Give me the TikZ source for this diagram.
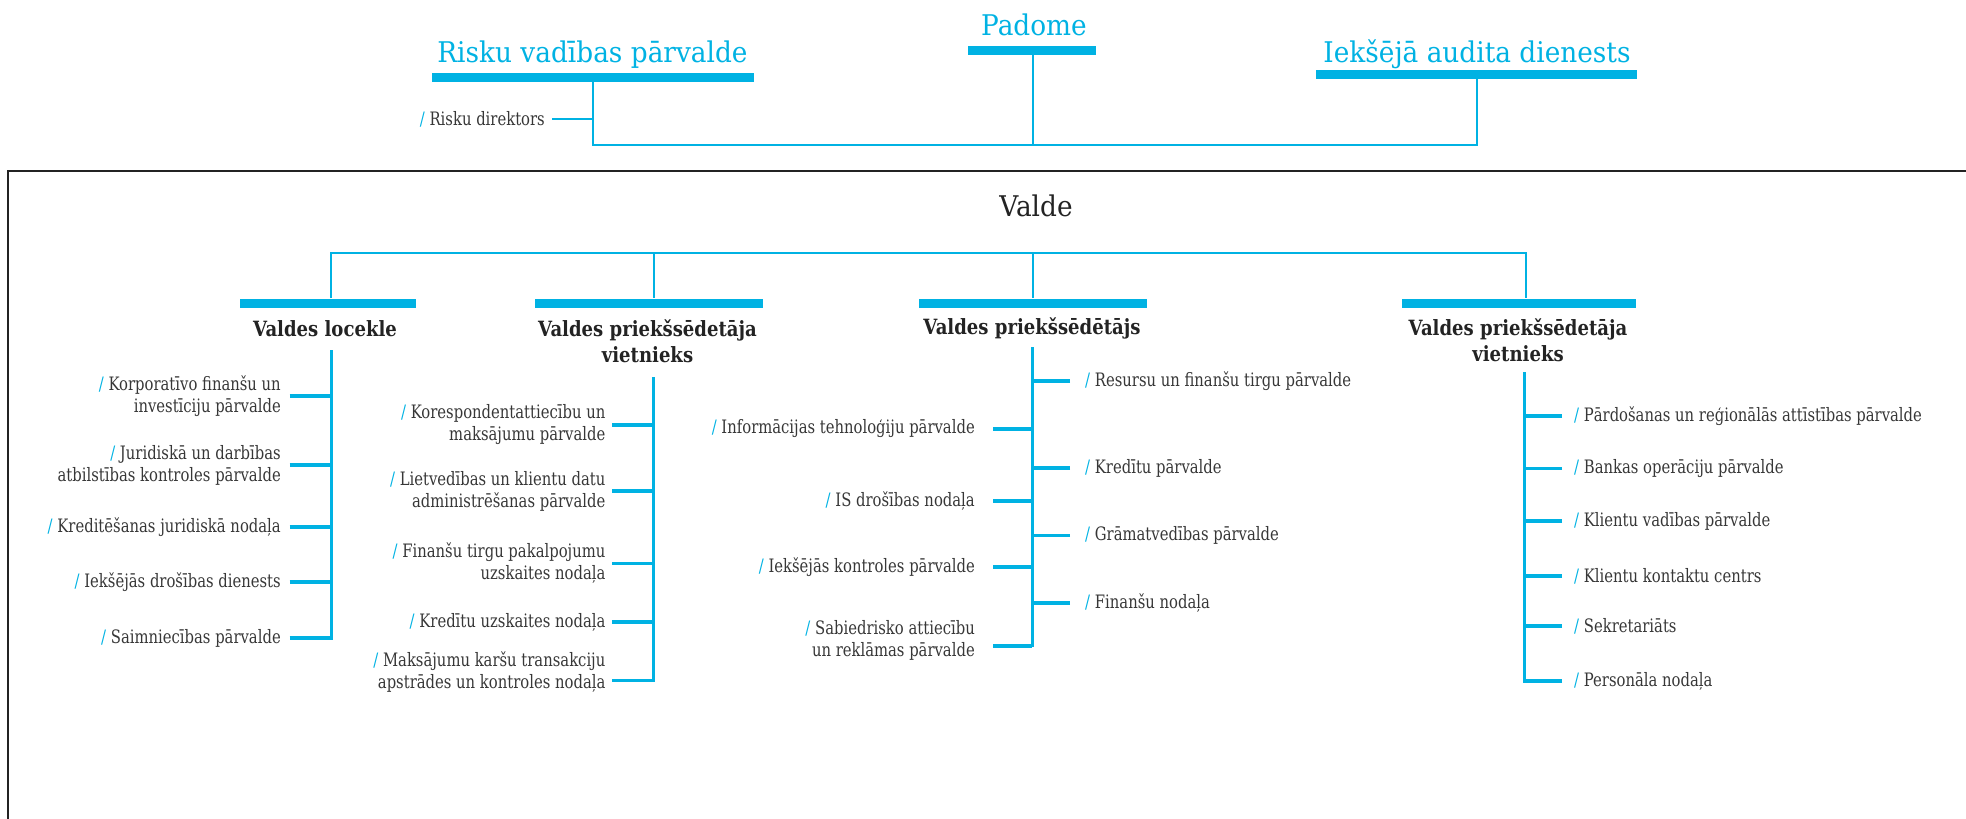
\documentclass[tikz,border=0pt]{standalone}
\usepackage{fontspec}
\usetikzlibrary{calc}
\newfontfamily\titlefont{DejaVu Serif}[FakeStretch=0.925]
\newfontfamily\itemfont{DejaVu Serif}[FakeStretch=0.80]
\newfontfamily\headfont{DejaVu Serif}[FakeStretch=0.86]
\definecolor{cblue}{RGB}{0,178,227}
\definecolor{ctext}{RGB}{55,55,55}
\definecolor{cdark}{RGB}{35,35,35}
\newcommand\bsl{{\color{cblue}/}\ }
\tikzset{
 bluetitle/.style={font=\titlefont\fontsize{28.5}{31}\selectfont, text=cblue, inner sep=0pt, anchor=base},
 valdetitle/.style={font=\titlefont\fontsize{28.5}{31}\selectfont, text=cdark, inner sep=0pt, anchor=base},
 head/.style={font=\headfont\bfseries\fontsize{21}{26.5}\selectfont, text=cdark, inner sep=0pt, align=center, anchor=base},
 iteml/.style={font=\itemfont\fontsize{18.5}{22}\selectfont, text=ctext, inner sep=0pt, align=right, anchor=east},
 itemr/.style={font=\itemfont\fontsize{18.5}{22}\selectfont, text=ctext, inner sep=0pt, align=left, anchor=west},
 bar/.style={fill=cblue, inner sep=0pt, minimum height=9pt, draw=none},
 conn/.style={draw=cblue, line width=2.5pt},
 colline/.style={draw=cblue, line width=3pt},
 stub/.style={draw=cblue, line width=3.5pt},
 frame/.style={draw=cdark, line width=2pt},
}
\begin{document}
\begin{tikzpicture}[x=1pt,y=-1pt]
\useasboundingbox (0,0) rectangle (1966,819);
% ---------- top level ----------
\node[bluetitle] (padome) at (1034,35) {Padome};
\node[bluetitle] (risku) at (592.5,62) {Risku vadības pārvalde};
\node[bluetitle] (audit) at (1477,62) {Iekšējā audita dienests};
\node[bar, minimum width=128pt] (pbar) at (1032,50.5) {};
\node[bar, minimum width=322pt] (rbar) at (593,77.5) {};
\node[bar, minimum width=321pt] (abar) at (1476.5,74.5) {};
\coordinate (tl) at (593,145);
\coordinate (tr) at (1477,145);
\draw[conn] (rbar.south -| tl) -- (tl) -- (tr) -- (abar.south -| tr);
\draw[conn] (pbar.south -| 1033,0) -- (tl -| 1033,0);
\node[iteml] (rdir) at (545,119) {\bsl Risku direktors};
\coordinate (rs) at (552,0);
\draw[conn] (rdir.east -| rs) -- (rdir.east -| tl);
% ---------- frame ----------
\draw[frame] (1966,170.5) -- (8,170.5) -- (8,819);
\node[valdetitle] (valde) at (1036,216.7) {Valde};
% ---------- board ----------
\coordinate (h1) at (331,253);
\coordinate (h2) at (654,253);
\coordinate (h3) at (1033,253);
\coordinate (h4) at (1526,253);
\node[bar, minimum width=176pt] (b1) at (328,303) {};
\node[bar, minimum width=228pt] (b2) at (649,303) {};
\node[bar, minimum width=228pt] (b3) at (1033,303) {};
\node[bar, minimum width=234pt] (b4) at (1519,303) {};
\draw[conn] (b1.north -| h1) -- (h1) -- (h4) -- (b4.north -| h4);
\draw[conn] (h2) -- (b2.north -| h2);
\draw[conn] (h3) -- (b3.north -| h3);
\node[head] (t1) at (325,336) {Valdes locekle};
\node[head] (t2) at (647.5,362.7) {Valdes priekšsēdetāja\\vietnieks};
\node[head] (t3) at (1032,334) {Valdes priekšsēdētājs};
\node[head] (t4) at (1518,361.7) {Valdes priekšsēdetāja\\vietnieks};
% ---------- column 1 ----------
\coordinate (k1t) at (331,350);
\coordinate (k1b) at (331,639.5);
\coordinate (s1) at (289.5,0);
\draw[colline] (k1t) -- (k1b);
\node[iteml] (a1) at (281,396) {\bsl Korporatīvo finanšu un\\investīciju pārvalde};
\node[iteml] (a2) at (281,465) {\bsl Juridiskā un darbības\\atbilstības kontroles pārvalde};
\node[iteml] (a3) at (281,527) {\bsl Kreditēšanas juridiskā nodaļa};
\node[iteml] (a4) at (281,582) {\bsl Iekšējās drošības dienests};
\node[iteml] (a5) at (281,638) {\bsl Saimniecības pārvalde};
\foreach \n in {a1,a2,a3,a4,a5} \draw[stub] (\n.east -| s1) -- (\n.east -| k1t);
% ---------- column 2 ----------
\coordinate (k2t) at (653,377);
\coordinate (k2b) at (653,682);
\coordinate (s2) at (612,0);
\draw[colline] (k2t) -- (k2b);
\node[iteml] (m1) at (605.6,425) {\bsl Korespondentattiecību un\\maksājumu pārvalde};
\node[iteml] (m2) at (605.6,491) {\bsl Lietvedības un klientu datu\\administrēšanas pārvalde};
\node[iteml] (m3) at (605.6,563.5) {\bsl Finanšu tirgu pakalpojumu\\uzskaites nodaļa};
\node[iteml] (m4) at (605.6,622) {\bsl Kredītu uzskaites nodaļa};
\node[iteml] (m5) at (605.6,672.5) {\bsl Maksājumu karšu transakciju\\apstrādes un kontroles nodaļa};
\foreach \n in {m1,m2,m3,m4} \draw[stub] (\n.east -| s2) -- (\n.east -| k2t);
\draw[stub] ($(m5.east -| s2)+(0,8)$) -- ($(m5.east -| k2t)+(0,8)$);
% ---------- column 3 ----------
\coordinate (k3t) at (1032,347);
\coordinate (k3b) at (1032,647);
\coordinate (s3l) at (993,0);
\coordinate (s3r) at (1070,0);
\draw[colline] (k3t) -- (k3b);
\node[itemr] (c1) at (1085,381) {\bsl Resursu un finanšu tirgu pārvalde};
\node[iteml] (c2) at (975,429) {\bsl Informācijas tehnoloģiju pārvalde};
\node[itemr] (c3) at (1085,468) {\bsl Kredītu pārvalde};
\node[iteml] (c4) at (975,501) {\bsl IS drošības nodaļa};
\node[itemr] (c5) at (1085,535.5) {\bsl Grāmatvedības pārvalde};
\node[iteml] (c6) at (975,567) {\bsl Iekšējās kontroles pārvalde};
\node[itemr] (c7) at (1085,603) {\bsl Finanšu nodaļa};
\node[iteml] (c8) at (975,640) {\bsl Sabiedrisko attiecību\\un reklāmas pārvalde};
\foreach \n in {c1,c3,c5,c7} \draw[stub] (\n.west -| s3r) -- (\n.west -| k3t);
\foreach \n in {c2,c4,c6} \draw[stub] (\n.east -| s3l) -- (\n.east -| k3t);
\draw[stub] ($(c8.east -| s3l)+(0,6)$) -- ($(c8.east -| k3t)+(0,6)$);
% ---------- column 4 ----------
\coordinate (k4t) at (1524,372);
\coordinate (k4b) at (1524,682.5);
\coordinate (s4) at (1562,0);
\draw[colline] (k4t) -- (k4b);
\node[itemr] (d1) at (1574,416) {\bsl Pārdošanas un reģionālās attīstības pārvalde};
\node[itemr] (d2) at (1574,468.5) {\bsl Bankas operāciju pārvalde};
\node[itemr] (d3) at (1574,521) {\bsl Klientu vadības pārvalde};
\node[itemr] (d4) at (1574,576) {\bsl Klientu kontaktu centrs};
\node[itemr] (d5) at (1574,626) {\bsl Sekretariāts};
\node[itemr] (d6) at (1574,681) {\bsl Personāla nodaļa};
\foreach \n in {d1,d2,d3,d4,d5,d6} \draw[stub] (\n.west -| s4) -- (\n.west -| k4t);
\end{tikzpicture}
\end{document}
